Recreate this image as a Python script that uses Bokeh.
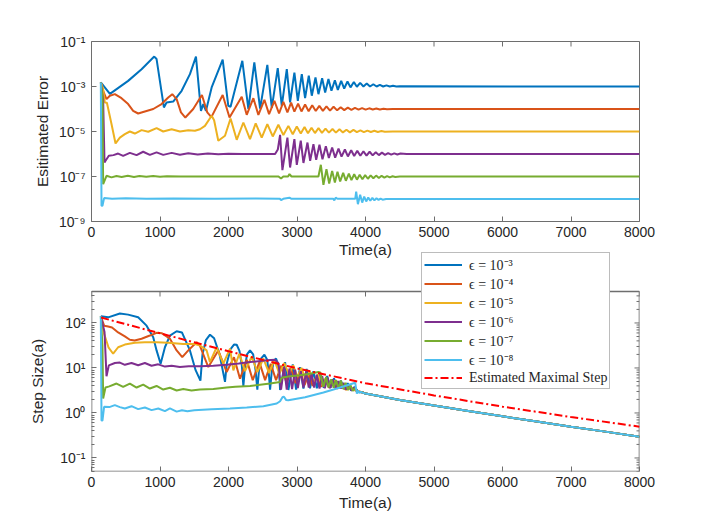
import math
from bokeh.plotting import figure
from bokeh.layouts import column
from bokeh.models import (Range1d, FixedTicker, CustomJSTickFormatter, Legend, LegendItem)
from bokeh.embed import file_html
from bokeh.resources import INLINE

# ---------------- data (time in a, values as log10) ----------------
labels = ["ϵ = 10⁻³", "ϵ = 10⁻⁴", "ϵ = 10⁻⁵", "ϵ = 10⁻⁶", "ϵ = 10⁻⁷", "ϵ = 10⁻⁸"]
red_label = "Estimated Maximal Step"
x_ticks = [0, 1000, 2000, 3000, 4000, 5000, 6000, 7000, 8000]
err_ticks = [1e-9, 1e-7, 1e-5, 1e-3, 1e-1]
step_ticks = [0.1, 1, 10, 100]
err_limits = (1e-9, 1e-1)
step_limits = (0.05, 500)

# Estimated error (top panel), log10 values
err_e3 = [(136,-2.82),(269,-3.33),(535,-2.75),(731,-2.23),(916,-1.67),(950,-1.78),(1057,-3.93),(1096,-3.71),
          (1193,-3.67),(1316,-3.19),(1437,-2.45),(1525,-1.67),(1598,-4.08),(1632,-3.78),(1671,-4.08),(1754,-3.04),
          (1915,-1.81),(1997,-3.86),(2030,-3.9),(2202,-1.86),(2290,-4.0),(2377,-1.93),(2461,-3.98),(2567,-2.04),
          (2632,-3.95),(2719,-2.18),(2778,-3.86),(2851,-2.23),(2899,-3.71),(2962,-2.38),(3012,-3.64),(3070,-2.45),
          (3118,-3.52),(3172,-2.52),(3216,-3.41),(3270,-2.6),(3313,-3.34),(3367,-2.63),(3411,-3.27),(3459,-2.67),
          (3503,-3.19),(3553,-2.72),(3596,-3.15),(3645,-2.75),(3689,-3.09),(3737,-2.78),(3781,-3.04),(3830,-2.8),
          (3874,-3.01),(3922,-2.84),(3970,-3.0),(4018,-2.87),(4066,-3.0),(4114,-2.9),(4162,-3.0),(4210,-2.93),
          (4258,-3.0),(4306,-2.95),(4354,-3.0),(4402,-2.97),(4450,-3.0),(4500,-2.99),(8000,-3.0)]
err_e4 = [(136,-2.82),(170,-3.19),(219,-3.56),(268,-3.41),(341,-3.34),(438,-3.52),(535,-3.78),(608,-4.08),
          (681,-4.2),(779,-4.11),(901,-4.0),(1023,-3.78),(1120,-3.49),(1179,-3.34),(1243,-3.56),(1306,-4.15),
          (1370,-4.38),(1485,-4.0),(1612,-3.38),(1690,-4.15),(1750,-4.36),(1915,-3.38),(2015,-4.38),(2193,-3.46),
          (2266,-4.26),(2363,-3.52),(2436,-4.26),(2524,-3.59),(2592,-4.23),(2670,-3.64),(2738,-4.2),(2801,-3.68),
          (2860,-4.15),(2914,-3.72),(2962,-4.12),(3016,-3.76),(3065,-4.11),(3118,-3.8),(3170,-4.1),(3222,-3.83),
          (3274,-4.09),(3326,-3.86),(3378,-4.08),(3430,-3.88),(3482,-4.07),(3534,-3.9),(3586,-4.06),(3638,-3.92),
          (3690,-4.05),(3742,-3.94),(3794,-4.04),(3846,-3.95),(3898,-4.03),(3950,-3.96),(4002,-4.03),(4054,-3.97),
          (4106,-4.02),(4158,-3.98),(4210,-4.02),(4262,-3.99),(4314,-4.01),(4400,-4.0),(8000,-4.0)]
err_e5 = [(136,-2.82),(170,-3.1),(194,-3.71),(225,-3.72),(292,-4.67),(351,-5.53),(414,-5.27),(487,-5.12),
          (560,-5.0),(633,-5.09),(731,-4.94),(828,-5.01),(950,-4.85),(1047,-5.0),(1170,-4.9),(1291,-5.0),
          (1413,-4.94),(1510,-4.97),(1583,-4.9),(1656,-4.75),(1754,-4.3),(1790,-4.5),(1851,-5.41),(1949,-5.19),
          (2030,-4.42),(2120,-5.37),(2217,-4.6),(2314,-5.34),(2397,-4.64),(2485,-5.27),(2567,-4.67),(2646,-5.22),
          (2728,-4.7),(2801,-5.16),(2874,-4.75),(2938,-5.12),(2997,-4.78),(3055,-5.09),(3110,-4.8),(3160,-5.08),
          (3212,-4.83),(3262,-5.07),(3314,-4.85),(3364,-5.06),(3416,-4.87),(3466,-5.05),(3518,-4.89),(3568,-5.05),
          (3620,-4.9),(3670,-5.04),(3722,-4.92),(3772,-5.04),(3824,-4.93),(3874,-5.03),(3926,-4.95),(3976,-5.03),
          (4028,-4.96),(4078,-5.02),(4130,-4.97),(4180,-5.02),(4232,-4.98),(4282,-5.01),(4400,-5.0),(8000,-5.0)]
err_e6 = [(136,-2.82),(170,-3.6),(190,-6.38),(205,-6.3),(253,-6.08),(320,-6.05),(389,-5.98),(462,-6.08),
          (560,-5.95),(658,-6.05),(754,-5.9),(852,-6.04),(950,-5.93),(1047,-6.04),(1170,-5.95),(1291,-6.03),
          (1413,-5.97),(1550,-6.02),(1700,-5.98),(1850,-6.01),(2000,-5.99),(2200,-6.0),(2680,-6.0),(2720,-5.8),
          (2753,-5.15),(2787,-6.72),(2860,-5.27),(2899,-6.6),(2962,-5.34),(2997,-6.48),(3055,-5.41),(3094,-6.4),
          (3153,-5.49),(3192,-6.3),(3240,-5.56),(3280,-6.26),(3328,-5.59),(3372,-6.23),(3421,-5.65),(3465,-6.18),
          (3513,-5.71),(3557,-6.16),(3606,-5.76),(3650,-6.12),(3699,-5.8),(3743,-6.11),(3791,-5.83),(3835,-6.09),
          (3880,-5.86),(3925,-6.08),(3970,-5.88),(4015,-6.07),(4060,-5.9),(4105,-6.06),(4150,-5.92),(4195,-6.05),
          (4240,-5.94),(4285,-6.04),(4330,-5.96),(4375,-6.03),(4420,-5.97),(4465,-6.02),(4510,-5.98),(4600,-6.0),
          (8000,-6.0)]
err_e7 = [(136,-2.82),(160,-3.5),(170,-7.34),(219,-6.97),(292,-7.04),(365,-6.98),(440,-7.02),(530,-6.97),
          (620,-7.02),(700,-6.98),(800,-7.01),(900,-6.98),(1000,-7.01),(1100,-6.99),(1300,-7.0),(2730,-7.0),
          (2767,-7.09),(2800,-7.0),(2870,-7.0),(2890,-6.89),(2920,-7.0),(3313,-7.0),(3348,-6.48),(3386,-7.37),
          (3430,-6.67),(3470,-7.31),(3513,-6.75),(3553,-7.27),(3591,-6.79),(3630,-7.22),(3674,-6.84),(3713,-7.19),
          (3757,-6.87),(3795,-7.16),(3835,-6.9),(3875,-7.14),(3915,-6.92),(3955,-7.12),(3995,-6.94),(4035,-7.1),
          (4075,-6.95),(4115,-7.08),(4155,-6.96),(4195,-7.07),(4235,-6.97),(4275,-7.05),(4315,-6.98),(4355,-7.04),
          (4395,-6.99),(4435,-7.02),(4500,-7.0),(8000,-7.0)]
err_e8 = [(136,-2.82),(146,-8.3),(160,-8.3),(184,-7.96),(300,-7.99),(500,-7.97),(800,-7.99),(1200,-7.98),
          (1800,-7.99),(2400,-7.98),(2750,-7.99),(2767,-8.05),(2800,-7.99),(2890,-7.94),(2920,-7.99),(3530,-7.99),
          (3545,-8.06),(3565,-7.94),(3590,-7.99),(3850,-7.99),(3864,-7.67),(3889,-8.23),(3922,-7.81),(3952,-8.16),
          (3981,-7.89),(4010,-8.11),(4040,-7.93),(4070,-8.08),(4100,-7.95),(4130,-8.06),(4160,-7.97),(4190,-8.04),
          (4220,-7.98),(4250,-8.03),(4300,-8.0),(8000,-8.0)]

# Step size (bottom panel), log10 values
step_tail = [(4500,0.29),(5000,0.165),(5500,0.045),(6000,-0.075),(6500,-0.19),(7000,-0.305),(7500,-0.415),(8000,-0.527)]
step_e3 = [(136,2.15),(244,2.125),(414,2.21),(535,2.185),(681,2.125),(804,1.94),(901,1.68),(950,1.39),(1009,1.095),
           (1072,1.46),(1145,1.72),(1243,1.816),(1320,1.79),(1437,1.39),(1520,0.95),(1590,0.72),(1620,1.3),(1670,1.62),
           (1730,1.74),(1790,1.66),(1870,1.3),(1949,0.69),(1975,1.1),(2030,1.42),(2080,1.52),(2120,1.515),(2160,1.38),
           (2195,1.05),(2217,0.6),(2240,1.0),(2270,1.3),(2314,1.39),(2360,1.3),(2395,0.95),(2421,0.52),(2445,0.95),
           (2480,1.22),(2524,1.294),(2565,1.18),(2590,0.85),(2607,0.52),(2630,0.9),(2660,1.15),(2694,1.21),(2725,1.08),
           (2745,0.75),(2753,0.51),(2826,1.13),(2874,0.51),(2938,1.08),(2987,0.52),(3045,1.02),(3094,0.54),(3140,0.98),
           (3190,0.55),(3240,0.93),(3290,0.55),(3340,0.87),(3390,0.56),(3440,0.82),(3490,0.56),(3540,0.77),(3590,0.55),
           (3640,0.72),(3690,0.53),(3740,0.66),(3790,0.5),(3840,0.58),(3890,0.47),(3950,0.46),(4000,0.43)]
step_e4 = [(136,2.15),(184,1.94),(243,1.92),(300,1.9),(389,1.79),(487,1.70),(560,1.626),(630,1.61),(731,1.65),
           (852,1.72),(950,1.78),(1030,1.77),(1145,1.65),(1243,1.39),(1325,1.24),(1413,1.39),(1535,1.57),(1580,1.5),
           (1705,1.02),(1851,1.39),(1973,0.91),(2080,1.24),(2168,0.76),(2266,1.18),(2354,0.73),(2451,1.13),(2534,0.73),
           (2617,1.09),(2694,0.73),(2770,1.05),(2840,0.7),(2910,1.0),(2980,0.66),(3050,0.93),(3110,0.62),(3170,0.86),
           (3230,0.6),(3290,0.8),(3350,0.58),(3410,0.75),(3470,0.56),(3530,0.7),(3590,0.54),(3650,0.64),(3710,0.52),
           (3770,0.56),(3850,0.5),(3950,0.46),(4000,0.43)]
step_e5 = [(136,2.15),(184,1.76),(250,1.45),(316,1.316),(389,1.46),(487,1.52),(633,1.56),(779,1.57),(950,1.57),
           (1120,1.56),(1340,1.53),(1510,1.53),(1583,1.5),(1681,1.39),(1729,1.13),(1827,1.46),(1924,1.095),(2022,1.43),
           (2071,0.948),(2158,1.316),(2241,0.93),(2339,1.257),(2421,0.91),(2509,1.206),(2592,0.89),(2670,1.17),
           (2743,0.875),(2816,1.11),(2880,0.86),(2945,1.06),(3005,0.8),(3065,1.0),(3125,0.74),(3185,0.93),(3245,0.68),
           (3305,0.86),(3365,0.62),(3425,0.78),(3485,0.58),(3545,0.72),(3605,0.55),(3665,0.65),(3725,0.52),(3785,0.56),
           (3870,0.49),(3950,0.46),(4000,0.43)]
step_e6 = [(136,2.15),(190,1.8),(219,0.815),(253,1.058),(341,1.11),(414,1.12),(487,1.07),(584,1.11),(681,1.06),
           (779,1.11),(877,1.05),(974,1.08),(1072,1.03),(1170,1.05),(1290,1.02),(1420,1.04),(1583,1.04),(1778,1.05),
           (1973,1.07),(2150,1.1),(2314,1.13),(2558,1.17),(2680,1.18),(2730,1.1),(2767,0.52),(2811,1.02),(2850,0.52),
           (2889,0.985),(2928,0.53),(2972,0.96),(3012,0.55),(3055,0.93),(3094,0.565),(3133,0.91),(3172,0.565),
           (3211,0.875),(3250,0.565),(3289,0.85),(3328,0.543),(3367,0.82),(3406,0.55),(3445,0.79),(3484,0.55),
           (3523,0.75),(3562,0.55),(3601,0.71),(3640,0.54),(3679,0.67),(3718,0.52),(3757,0.62),(3796,0.5),(3835,0.56),
           (3900,0.47),(3950,0.46),(4000,0.43)]
step_e7 = [(136,2.15),(160,1.5),(170,0.322),(204,0.565),(260,0.59),(365,0.654),(462,0.58),(560,0.654),(658,0.565),
           (755,0.63),(852,0.543),(950,0.6),(1047,0.52),(1145,0.56),(1243,0.5),(1340,0.53),(1460,0.5),(1583,0.52),
           (1778,0.53),(1973,0.565),(2100,0.58),(2314,0.6),(2607,0.654),(2753,0.69),(2767,0.76),(2790,0.79),
           (2899,0.815),(3045,0.84),(3192,0.87),(3313,0.91),(3340,0.9),(3386,0.58),(3425,0.8),(3459,0.565),(3499,0.75),
           (3535,0.56),(3570,0.73),(3606,0.54),(3640,0.72),(3675,0.53),(3710,0.67),(3745,0.51),(3780,0.62),(3815,0.49),
           (3850,0.56),(3885,0.47),(3950,0.46),(4000,0.43)]
step_e8 = [(136,2.15),(146,-0.17),(160,-0.17),(184,0.137),(260,0.13),(341,0.174),(414,0.13),(487,0.1),(584,0.15),
           (681,0.085),(780,0.12),(877,0.063),(975,0.1),(1072,0.04),(1145,0.1),(1243,0.03),(1320,0.06),(1400,0.04),
           (1500,0.06),(1754,0.085),(2022,0.101),(2266,0.12),(2509,0.15),(2704,0.21),(2753,0.26),(2790,0.357),
           (2810,0.36),(2840,0.29),(2874,0.28),(3118,0.35),(3386,0.455),(3630,0.565),(3850,0.67),(3874,0.43),
           (3890,0.5),(3910,0.44),(3930,0.47),(3960,0.45),(4000,0.43)]
step_max = [(140,2.12),(1000,1.77),(2000,1.37),(3000,0.99),(4000,0.66),(5000,0.39),(6000,0.14),(7000,-0.09),(8000,-0.305)]

err_series = [err_e3, err_e4, err_e5, err_e6, err_e7, err_e8]
step_series = [step_e3, step_e4, step_e5, step_e6, step_e7, step_e8]

# ---------------- styling ----------------
COLORS = ["#0072BD", "#D95319", "#EDB120", "#7E2F8E", "#77AC30", "#4DBEEE"]
RED = "#FF0000"
FONT = "Liberation Sans"
TXT = "#262626"
BOX = "#6e6e6e"

fmt_code = """
const sup = {"-": "⁻", "0": "⁰", "1": "¹", "2": "²", "3": "³", "4": "⁴",
             "5": "⁵", "6": "⁶", "7": "⁷", "8": "⁸", "9": "⁹"};
const e = Math.round(Math.log10(tick));
let s = "";
for (const c of String(e)) { s += sup[c]; }
return "10" + s;
"""


def unzip(pairs):
    ts = [p[0] for p in pairs]
    vs = [10 ** p[1] for p in pairs]
    return ts, vs


def style_axis(ax):
    ax.major_tick_in = 5
    ax.major_tick_out = 0
    ax.minor_tick_in = 3
    ax.minor_tick_out = 0
    ax.axis_line_color = None
    ax.major_tick_line_color = BOX
    ax.minor_tick_line_color = BOX
    ax.major_label_text_font = FONT
    ax.major_label_text_font_size = "14px"
    ax.major_label_text_color = TXT
    ax.axis_label_text_font = FONT
    ax.axis_label_text_font_size = "15.5px"
    ax.axis_label_text_font_style = "normal"
    ax.axis_label_text_color = TXT


def make_fig(height, view, box, yticks, yminor, ylabel, btop, bbottom, ylab_standoff, xlab_standoff,
             draw_box=False, **kw):
    p = figure(width=700, height=height, x_range=Range1d(0, 8000), y_range=Range1d(*view),
               y_axis_type="log", output_backend="svg", toolbar_location=None, title=None,
               min_border_left=91, min_border_right=61, min_border_top=btop,
               min_border_bottom=bbottom, **kw)
    p.xgrid.visible = False
    p.ygrid.visible = False
    p.background_fill_color = "white"
    p.xaxis[0].ticker = FixedTicker(ticks=x_ticks, minor_ticks=[])
    p.yaxis[0].ticker = FixedTicker(ticks=yticks, minor_ticks=yminor)
    p.yaxis[0].formatter = CustomJSTickFormatter(code=fmt_code)
    style_axis(p.xaxis[0])
    style_axis(p.yaxis[0])
    p.xaxis[0].major_label_standoff = 5
    p.yaxis[0].major_label_standoff = 6
    p.xaxis[0].axis_label = "Time(a)"
    p.yaxis[0].axis_label = ylabel
    p.xaxis[0].axis_label_standoff = xlab_standoff
    p.yaxis[0].axis_label_standoff = ylab_standoff
    if draw_box:
        # axes box drawn at the axis limits (the frame itself is taller, to leave room for the legend)
        p.outline_line_color = None
        lo, hi = box
        p.segment(x0=[0, 8000, 0, 0], y0=[lo, lo, lo, hi], x1=[0, 8000, 8000, 8000], y1=[hi, hi, lo, hi],
                  line_color=BOX, line_width=1.6)
    else:
        p.outline_line_color = BOX
        p.outline_line_width = 1
    # tick marks on the right and top sides of the box (MATLAB-style box ticks)
    p.ray(x=[8000] * len(yticks), y=yticks, length=5, length_units="screen", angle=math.pi,
          line_color=BOX, line_width=1)
    if yminor:
        p.ray(x=[8000] * len(yminor), y=yminor, length=3, length_units="screen", angle=math.pi,
              line_color=BOX, line_width=1)
    p.ray(x=x_ticks, y=[box[1]] * len(x_ticks), length=5, length_units="screen",
          angle=-math.pi / 2, line_color=BOX, line_width=1)
    return p


# ---------------- top panel ----------------
p1 = make_fig(261, err_limits, err_limits, err_ticks, [], "Esitimated Error", 41, 40, 5, 1)
for pairs, c in zip(err_series, COLORS):
    ts, vs = unzip(pairs)
    p1.line(ts, vs, line_color=c, line_width=2)

# ---------------- bottom panel ----------------
# the bottom canvas overlaps the top one by 10 px (transparent), and its frame reaches 39 px above
# the axes box so that the legend (which is clipped to the frame) can sit partly above the box.
BOX_PX = 180          # height of the axes box in px (4 decades)
FRAME_PX = 219        # frame height in px
step_view = (step_limits[0],
             step_limits[0] * 10 ** (math.log10(step_limits[1] / step_limits[0]) * FRAME_PX / BOX_PX))
step_minor = [m * d for d in [0.01, 0.1, 1, 10, 100] for m in range(2, 10) if 0.05 <= m * d <= 500]
p2 = make_fig(266, step_view, step_limits, step_ticks, step_minor,
              "Step Size(a)" + "\u00a0" * 9, 1, 46, 11, 4, draw_box=True, margin=(-10, 0, 0, 0))
p2.border_fill_alpha = 0.0
p2.background_fill_alpha = 0.0
items = []
for pairs, c, lab in zip(step_series, COLORS, labels):
    ts, vs = unzip(pairs + step_tail)
    r = p2.line(ts, vs, line_color=c, line_width=2)
    items.append(LegendItem(label=lab, renderers=[r]))
ts, vs = unzip(step_max)
r = p2.line(ts, vs, line_color=RED, line_width=2, line_dash="8 3 2 3")
items.append(LegendItem(label=red_label, renderers=[r]))

legend = Legend(items=items, location=(330, 82), orientation="vertical",
                label_text_font="Liberation Serif", label_text_font_size="14px",
                label_text_color=TXT, label_height=17, glyph_height=17, glyph_width=38,
                label_standoff=7, spacing=0, padding=2, margin=0,
                border_line_color="#7a7a7a", border_line_width=1,
                background_fill_color="white", background_fill_alpha=1.0)
p2.add_layout(legend, "center")

layout = column(p1, p2, spacing=0)
open("out.html", "w").write(file_html(layout, INLINE))
